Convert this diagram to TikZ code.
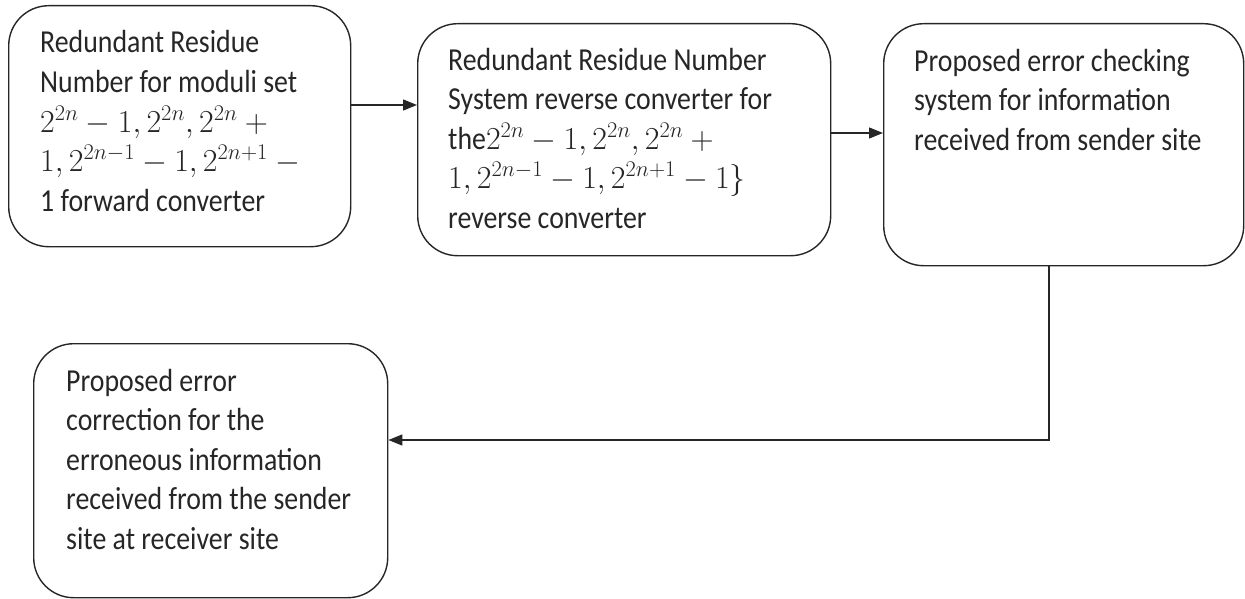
\RequirePackage{fix-cm}
\documentclass[tikz,border=0pt]{standalone}
\usepackage{fontspec}
\setmainfont{Carlito}[FakeStretch=0.87]
\usetikzlibrary{arrows.meta,calc}
\tikzset{
  box/.style={draw=black!85, line width=1.4pt, rounded corners=40pt, anchor=north west, inner sep=0pt},
  txt/.style={anchor=base west, align=left, inner sep=0pt, text=black!85,
    font=\fontsize{32}{39.5}\selectfont},
  arr/.style={draw=black!85, line width=1.4pt, -{Triangle[length=14pt,width=11pt]}},
}
\begin{document}
\begin{tikzpicture}[x=1pt,y=-1pt]
\useasboundingbox (0,0) rectangle (1245,599);
\node[box, minimum width=342pt, minimum height=241pt] (b1) at (8,5) {};
\node[box, minimum width=413pt, minimum height=232pt] (b2) at (417,23) {};
\node[box, minimum width=360pt, minimum height=242pt] (b3) at (883,23) {};
\node[box, minimum width=354pt, minimum height=254pt] (b4) at (33,343) {};
\node[txt] (t1) at ($(b1.north west)+(32,206)$) {Redundant Residue\\Number for moduli set\\$2^{2n}-1, 2^{2n}, 2^{2n}+{}$\\$1, 2^{2n-1}-1, 2^{2n+1}-{}$\\1 forward converter};
\node[txt] (t2) at ($(b2.north west)+(31,205)$) {Redundant Residue Number\\System reverse converter for\\the$2^{2n}-1, 2^{2n}, 2^{2n}+{}$\\$1, 2^{2n-1}-1, 2^{2n+1}-1\}$\\reverse converter};
\node[txt] (t3) at ($(b3.north west)+(31,127)$) {Proposed error checking\\system for information\\received from sender site};
\node[txt] (t4) at ($(b4.north west)+(33,206)$) {Proposed error\\correction for the\\erroneous information\\received from the sender\\site at receiver site};
\coordinate (y1) at (0,105);
\coordinate (y2) at (0,133);
\coordinate (x3) at (1049,0);
\coordinate (y4) at (0,440);
\draw[arr] (b1.east |- y1) -- (b2.west |- y1);
\draw[arr] (b2.east |- y2) -- (b3.west |- y2);
\draw[arr] (x3 |- b3.south) -- (x3 |- y4) -- (b4.east |- y4);
\end{tikzpicture}
\end{document}
